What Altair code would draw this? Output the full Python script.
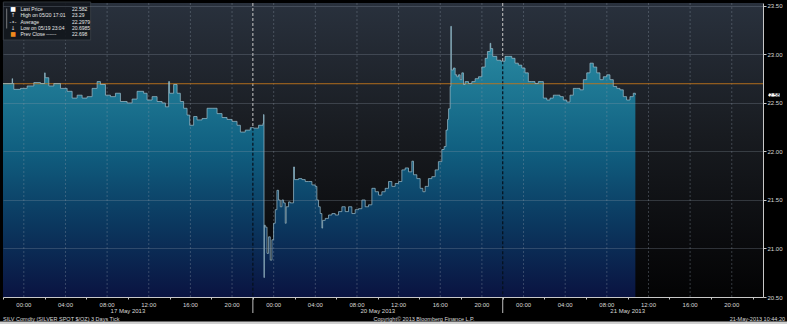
import altair as alt
import pandas as pd

# ---- data (hours of trading time since 16 May 2013 22:00; weekend removed) ----
T = [0, 0.88, 0.92, 1.04, 1.68, 2.32, 2.96, 3.6, 4.0, 4.05, 4.4, 4.88, 5.52, 6.16, 6.64, 7.12, 7.6,
     8.08, 8.56, 9.04, 9.36, 9.84, 10.32, 10.8, 11.28, 11.92, 12.4, 12.88, 13.51, 13.84, 14.32, 14.8,
     15.28, 15.6, 15.91, 16.0, 16.39, 16.72, 17.03, 17.35, 17.68, 17.93, 18.31, 18.64, 19.12, 19.6,
     20.08, 20.56, 21.04, 21.52, 22.0, 22.48, 22.8, 23.27, 23.75,
     24.07, 24.55, 24.97, 25.03, 25.07, 25.1, 25.19, 25.36, 25.51, 25.67, 25.83, 25.99, 26.15, 26.31,
     26.47, 26.63, 26.79, 26.95, 27.11, 27.2, 27.43, 27.59, 27.91, 28.0, 28.39, 28.71, 29.03, 29.35,
     29.67, 29.99, 30.15, 30.31, 30.47, 30.63, 30.7, 30.95, 31.27, 31.59, 31.91, 32.23, 32.55, 32.87,
     33.19, 33.51, 33.83, 34.15, 34.47, 34.79, 35.11, 35.43, 35.75, 36.07, 36.39, 36.71, 37.03, 37.35,
     37.67, 37.99, 38.31, 38.63, 38.95, 39.27, 39.43, 39.75, 40.07, 40.33, 40.55, 40.86, 41.19, 41.51,
     41.82, 42.15, 42.37, 42.55, 42.7, 42.8, 42.95, 43.02, 43.06, 43.26, 43.43, 43.59, 43.75, 43.91,
     44.07, 44.23, 44.39, 44.71, 45.03, 45.35, 45.67, 45.99, 46.31, 46.53, 46.79, 46.85, 47.04, 47.43,
     47.81, 48.22, 48.54, 48.87, 49.18, 49.5, 49.83, 50.14, 50.46, 50.79, 51.1, 51.42, 51.75, 51.9,
     52.23, 52.54, 52.86, 53.19, 53.5, 53.82, 54.15, 54.46, 54.78, 55.11, 55.42, 55.74, 56.07, 56.38,
     56.7, 57.03, 57.34, 57.66, 57.99, 58.3, 58.62, 58.95, 59.26, 59.58, 59.9, 60.22, 60.54, 60.74]
P = [22.70, 22.75, 22.70, 22.64, 22.65, 22.675, 22.71, 22.70, 22.81, 22.76, 22.675, 22.70, 22.65,
     22.62, 22.55, 22.58, 22.55, 22.565, 22.65, 22.72, 22.69, 22.58, 22.565, 22.60, 22.515, 22.50,
     22.54, 22.62, 22.60, 22.53, 22.565, 22.515, 22.50, 22.46, 22.72, 22.60, 22.69, 22.60, 22.515,
     22.445, 22.375, 22.27, 22.36, 22.325, 22.34, 22.445, 22.445, 22.39, 22.35, 22.33, 22.31, 22.27,
     22.20, 22.22, 22.245,
     22.24, 22.27, 22.29, 22.38, 20.70, 21.24, 21.22, 20.95, 21.12, 20.88, 21.09, 21.26, 21.40, 21.60,
     21.50, 21.43, 21.50, 21.47, 21.26, 21.43, 21.48, 21.47, 21.84, 21.71, 21.72, 21.71, 21.69, 21.69,
     21.655, 21.64, 21.50, 21.43, 21.36, 21.21, 21.29, 21.31, 21.345, 21.36, 21.345, 21.38, 21.43, 21.38,
     21.43, 21.36, 21.40, 21.41, 21.50, 21.43, 21.45, 21.62, 21.585, 21.55, 21.585, 21.62, 21.69, 21.64,
     21.67, 21.69, 21.81, 21.83, 21.79, 21.90, 21.76, 21.72, 21.62, 21.585, 21.64, 21.72, 21.74, 21.81,
     21.895, 22.02, 22.05, 22.22, 22.33, 22.44, 22.67, 23.29, 22.84, 22.86, 22.79, 22.77, 22.79, 22.74,
     22.81, 22.69, 22.72, 22.70, 22.72, 22.75, 22.77, 22.87, 22.96, 23.03, 23.115, 23.06, 22.98, 22.94,
     22.93, 22.98, 22.98, 22.96, 22.91, 22.89, 22.86, 22.81, 22.72, 22.72, 22.70, 22.72, 22.72, 22.55,
     22.53, 22.55, 22.58, 22.58, 22.565, 22.53, 22.51, 22.58, 22.65, 22.65, 22.635, 22.74, 22.81, 22.91,
     22.87, 22.81, 22.74, 22.77, 22.79, 22.74, 22.67, 22.65, 22.635, 22.565, 22.53, 22.565, 22.60, 22.582]

prev_close = 22.698
last_price = 22.582
sep_t = [24, 48]
sep_p = [22.245, 22.93]
day_t = [12, 36, 60]
day_labels = ["17 May 2013", "20 May 2013", "21 May 2013"]
hour_t = [2, 6, 10, 14, 18, 22, 26, 30, 34, 38, 42, 46, 50, 54, 58, 62, 66, 70]
hour_labels = ["00:00", "04:00", "08:00", "12:00", "16:00", "20:00"] * 3
y_ticks = [20.5, 21.0, 21.5, 22.0, 22.5, 23.0, 23.5]
x_ticks = list(range(0, 73, 2))
legend_labels = ["Last Price", "High on 05/20 17:01", "Average", "Low on 05/19 23:04", "Prev Close ------"]
legend_values = ["22.582", "23.29", "22.2979", "20.6985", "22.698"]
legend_icons = ["■", "↑", "-•-", "↓", "■"]
legend_icon_colors = ["#ffffff", "#e0e0e0", "#e0e0e0", "#e0e0e0", "#f08a1c"]
footer_left = "SILV Comdty (SILVER SPOT $/OZ) 3 Days  Tick"
footer_mid = "Copyright© 2013 Bloomberg Finance L.P."
footer_right = "21-May-2013 10:44:20"

W, H = 760, 294
FONT = "Liberation Sans"
TXT = "#d8d8d8"

df = pd.DataFrame({"t": T, "p": P})
sep_df = pd.DataFrame({"t": sep_t, "p": sep_p})
day_df = pd.DataFrame({"t": day_t, "lab": day_labels})
hour_df = pd.DataFrame({"t": hour_t, "lab": hour_labels})
one = alt.Data(values=[{}])

xs = alt.Scale(domain=[0, 73], nice=False, zero=False)
ys = alt.Scale(domain=[20.5, 23.53], nice=False, zero=False)

bg_grad = alt.Gradient(gradient="linear", x1=0, x2=0, y1=0, y2=1, stops=[
    alt.GradientStop(color="#29313d", offset=0),
    alt.GradientStop(color="#181b20", offset=0.45),
    alt.GradientStop(color="#030304", offset=1)])
area_grad = alt.Gradient(gradient="linear", x1=0, x2=0, y1=0, y2=1, stops=[
    alt.GradientStop(color="#2f8fa8", offset=0),
    alt.GradientStop(color="#23809a", offset=0.15),
    alt.GradientStop(color="#105f80", offset=0.46),
    alt.GradientStop(color="#0b3960", offset=0.72),
    alt.GradientStop(color="#0a1341", offset=1)])

x_axis = alt.Axis(values=x_ticks, title=None, zindex=1, labels=False, grid=False,
                  tickColor="#c8c8c8", tickSize=2, domainColor="#c8c8c8")
y_axis = alt.Axis(orient="right", values=y_ticks, format=".2f", title=None, zindex=1,
                  grid=True, gridColor="#8e9aa8", gridOpacity=0.28,
                  tickColor="#c8c8c8", tickSize=3, domainColor="#c8c8c8",
                  labelColor=TXT, labelFontSize=6, labelFont=FONT, labelPadding=1,
                  labelOverlap=False, labelFlush=False)

bg = alt.Chart(one).mark_rect(fill=bg_grad).encode(
    x=alt.value(0), x2=alt.value(W), y=alt.value(0), y2=alt.value(H))

sep_light = alt.Chart(sep_df).mark_rule(color="#c8c8c8", strokeDash=[3, 2], strokeWidth=1).encode(
    x=alt.X("t:Q", scale=xs), y=alt.value(0), y2=alt.value(H))

area = alt.Chart(df).mark_area(interpolate="step-after", fill=area_grad).encode(
    x=alt.X("t:Q", scale=xs, axis=x_axis),
    y=alt.Y("p:Q", scale=ys, axis=y_axis),
    y2=alt.datum(20.5))

vgrid = alt.Chart(hour_df).mark_rule(color="#8e9aa8", strokeDash=[2, 2], strokeWidth=1, opacity=0.35).encode(
    x=alt.X("t:Q", scale=xs), y=alt.value(0), y2=alt.value(H))

sep_dark = alt.Chart(sep_df).mark_rule(color="#05101c", strokeDash=[3, 2], strokeWidth=1.2).encode(
    x=alt.X("t:Q", scale=xs), y=alt.Y("p:Q", scale=ys), y2=alt.datum(20.5))

sep_axis = alt.Chart(sep_df).mark_rule(color="#bdbdbd", strokeWidth=1).encode(
    x=alt.X("t:Q", scale=xs), y=alt.value(H), y2=alt.value(H + 16))

prev = alt.Chart(one).mark_rule(color="#c0761c", strokeWidth=1, opacity=0.9).encode(
    x=alt.value(0), x2=alt.value(W), y=alt.datum(prev_close))

edge = alt.Chart(df).mark_line(interpolate="step-after", color="#9fc2d0", strokeWidth=0.7).encode(
    x=alt.X("t:Q", scale=xs), y=alt.Y("p:Q", scale=ys))

hours = alt.Chart(hour_df).mark_text(fontSize=6, font=FONT, color=TXT, baseline="middle").encode(
    x=alt.X("t:Q", scale=xs), y=alt.value(H + 7.7), text="lab:N")

days = alt.Chart(day_df).mark_text(fontSize=6, font=FONT, color=TXT, baseline="middle").encode(
    x=alt.X("t:Q", scale=xs), y=alt.value(H + 14), text="lab:N")

# legend box
leg_layers = [alt.Chart(one).mark_rect(fill="#12161c", opacity=0.9, stroke="#40464e", strokeWidth=0.8).encode(
    x=alt.value(0.3), x2=alt.value(87.7), y=alt.value(-1), y2=alt.value(37))]
leg_layers.append(alt.Chart(one).mark_rule(color="#bbbbbb", strokeWidth=0.6).encode(
    x=alt.value(3.7), y=alt.value(5.5), y2=alt.value(25.5)))
rows_y = [5.5, 12, 18.7, 25.3, 31.3]
for i in range(5):
    leg_layers.append(alt.Chart(one).mark_text(
        text=legend_icons[i], fontSize=6 if i in (0, 4) else 5.5, font="DejaVu Sans",
        color=legend_icon_colors[i], align="center", baseline="middle").encode(
        x=alt.value(10), y=alt.value(rows_y[i])))
    leg_layers.append(alt.Chart(one).mark_text(
        text=legend_labels[i], fontSize=5, font=FONT, color="#e8e8e8",
        align="left", baseline="middle").encode(x=alt.value(17.5), y=alt.value(rows_y[i])))
    leg_layers.append(alt.Chart(one).mark_text(
        text=legend_values[i], fontSize=5, font=FONT, color="#e8e8e8",
        align="left", baseline="middle").encode(x=alt.value(69), y=alt.value(rows_y[i])))

# last price tag on right axis
tag = alt.Chart(one).mark_point(
    shape="M-1.15,0L-0.95,-0.32L1,-0.32L1,0.32L-0.95,0.32Z", size=121,
    filled=True, fill="#ffffff", opacity=1, strokeWidth=0).encode(
    x=alt.value(771.3), y=alt.datum(last_price))
tag_txt = alt.Chart(one).mark_text(
    text="22.582", fontSize=5.5, font=FONT, color="#000000", align="center", baseline="middle").encode(
    x=alt.value(771.5), y=alt.datum(last_price))

footer = [
    alt.Chart(one).mark_text(text=footer_left, fontSize=5.5, font=FONT, color=TXT,
                             align="left", baseline="middle").encode(x=alt.value(0), y=alt.value(H + 21.5)),
    alt.Chart(one).mark_text(text=footer_mid, fontSize=5.5, font=FONT, color=TXT,
                             align="center", baseline="middle").encode(x=alt.value(421), y=alt.value(H + 21.5)),
    alt.Chart(one).mark_text(text=footer_right, fontSize=5.5, font=FONT, color=TXT,
                             align="right", baseline="middle").encode(x=alt.value(782), y=alt.value(H + 21.5)),
    alt.Chart(one).mark_rect(fill="#cfcfcf").encode(
        x=alt.value(-3), x2=alt.value(784), y=alt.value(H + 24.6), y2=alt.value(H + 27)),
]

chart = alt.layer(bg, sep_light, area, vgrid, sep_dark, prev, edge, sep_axis, hours, days,
                  *leg_layers, tag, tag_txt, *footer).properties(
    width=W, height=H,
    padding={"left": 3, "top": 3, "right": 24, "bottom": 27},
    autosize=alt.AutoSizeParams(type="none"),
    background="#000000",
).configure_view(stroke=None)

chart.save("out.html", embed_options={"renderer": "svg", "actions": False})
